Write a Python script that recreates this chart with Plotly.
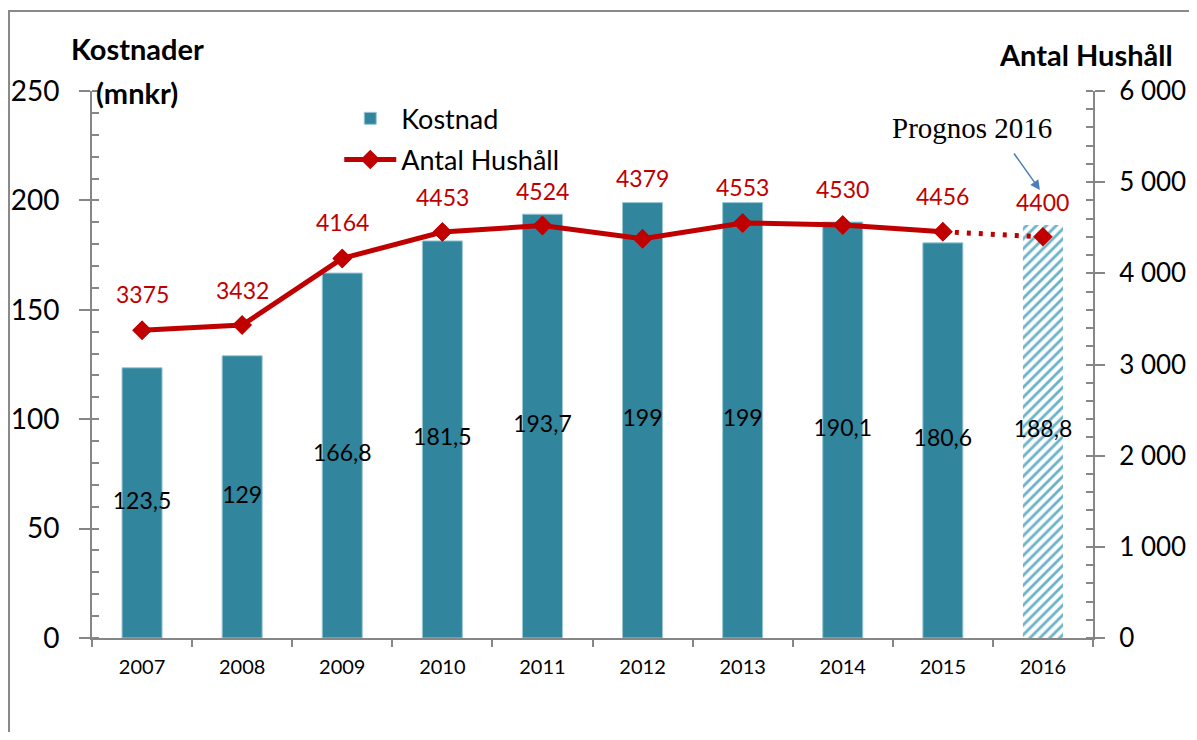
import plotly.graph_objects as go

# ---- data ----
years = ["2007", "2008", "2009", "2010", "2011", "2012", "2013", "2014", "2015", "2016"]
kostnad = [123.5, 129, 166.8, 181.5, 193.7, 199, 199, 190.1, 180.6, 188.8]
hushall = [3375, 3432, 4164, 4453, 4524, 4379, 4553, 4530, 4456, 4400]

# ---- styles ----
FONT = "Lato"
BAR_COLOR = "#31859C"
HATCH_COLOR = "#6AB2C8"
RED = "#C00000"
AXIS_GREY = "#868686"
label_shift = [36, 35, 36, 35, 35, 61, 36, 36, 36, 35]  # px above marker (style offsets)

n = len(years)
fmt = lambda v: f"{v:g}".replace(".", ",")

fig = go.Figure()

# bars (last one hatched = forecast)
fig.add_trace(go.Bar(
    x=years, y=kostnad, name="Kostnad", width=0.4,
    marker=dict(
        color=[BAR_COLOR] * (n - 1) + [HATCH_COLOR],
        line=dict(color=["#9CC8D6"] * (n - 1) + ["rgba(0,0,0,0)"], width=1),
        pattern=dict(shape=[""] * (n - 1) + ["/"],
                     bgcolor="white", size=7, solidity=0.4,
                     fillmode="replace"),
    ),
    legendgroup="a", hoverinfo="skip",
))

# bar value labels centred in bars
fig.add_trace(go.Scatter(
    x=years, y=[v / 2 for v in kostnad], mode="text",
    text=[fmt(v) for v in kostnad],
    textfont=dict(family=FONT, size=23, color="black"),
    showlegend=False, hoverinfo="skip",
))

# forecast (dotted part) - drawn first so markers sit on top
fig.add_trace(go.Scatter(
    x=years[-2:], y=hushall[-2:], yaxis="y2",
    mode="lines",
    line=dict(color=RED, width=5, dash="4px,8px"),
    showlegend=False, hoverinfo="skip",
))
# all household markers (incl. forecast year)
fig.add_trace(go.Scatter(
    x=years, y=hushall, name="Antal Hushåll", yaxis="y2",
    mode="markers",
    marker=dict(symbol="diamond", size=15, color=RED, line=dict(width=0)),
    showlegend=False, hoverinfo="skip",
))
# solid line for actual years
fig.add_trace(go.Scatter(
    x=years[:-1], y=hushall[:-1], name="Antal Hushåll", yaxis="y2",
    mode="lines+markers",
    line=dict(color=RED, width=5),
    marker=dict(symbol="diamond", size=15, color=RED),
    legendgroup="b", hoverinfo="skip",
))

annotations = []
for i, (v, s) in enumerate(zip(hushall, label_shift)):
    annotations.append(dict(
        x=i, y=v, xref="x", yref="y2", text=str(v), showarrow=False,
        yshift=s, yanchor="middle", xanchor="center",
        font=dict(family=FONT, size=23, color=RED),
    ))

annotations += [
    dict(x=0.045, y=1.0768, xref="paper", yref="paper", text="<b>Kostnader</b>",
         showarrow=False, xanchor="center", yanchor="middle",
         font=dict(family=FONT, size=29, color="black")),
    dict(x=0.045, y=0.998, xref="paper", yref="paper", text="<b>(mnkr)</b>",
         showarrow=False, xanchor="center", yanchor="middle",
         font=dict(family=FONT, size=29, color="black")),
    dict(x=0.993, y=1.0676, xref="paper", yref="paper", text="<b>Antal Hushåll</b>",
         showarrow=False, xanchor="center", yanchor="middle",
         font=dict(family=FONT, size=29, color="black")),
    dict(x=0.961, y=0.932, xref="paper", yref="paper", text="Prognos 2016",
         showarrow=False, xanchor="right", yanchor="middle",
         font=dict(family="Liberation Serif", size=29, color="black")),
    dict(x=0.947, y=0.819, xref="paper", yref="paper", text="",
         showarrow=True, ax=-27, ay=-38, axref="pixel", ayref="pixel",
         arrowcolor="#4A7EBB", arrowwidth=1.5, arrowhead=2, arrowsize=1.3),
]

# page body has an 8px margin: the plot area sits at page x 92..1093, y 91..638
fig.update_layout(
    width=1189, height=724, autosize=False,
    margin=dict(l=84, r=104, t=83, b=94, autoexpand=False),
    paper_bgcolor="white", plot_bgcolor="white",
    separators=", ",
    font=dict(family=FONT, color="black"),
    showlegend=True,
    legend=dict(x=0.247, y=0.994, xanchor="left", yanchor="top",
                bgcolor="rgba(0,0,0,0)", font=dict(family=FONT, size=27),
                traceorder="grouped", tracegroupgap=3, itemwidth=52),
    annotations=annotations,
    shapes=[dict(type="rect", xref="paper", yref="paper",
                 x0=-0.0829, x1=1.3, y0=-0.4, y1=1.1463,
                 line=dict(color="#898989", width=2), fillcolor="rgba(0,0,0,0)",
                 layer="below")],
    xaxis=dict(type="category", categoryorder="array", categoryarray=years,
               range=[-0.5, n - 0.5], showline=True, linecolor=AXIS_GREY, linewidth=2,
               ticks="outside", tickson="boundaries", ticklen=7, tickwidth=2,
               tickcolor=AXIS_GREY, tickfont=dict(size=20), showgrid=False,
               ticklabelstandoff=10, automargin=False),
    xaxis2=dict(type="linear", overlaying="x", anchor="y", range=[-0.5, n - 0.5],
                tickmode="array", tickvals=[i - 0.5 for i in range(n + 1)],
                ticks="inside", ticklen=7, tickwidth=2, tickcolor=AXIS_GREY,
                showticklabels=False, showline=False, showgrid=False, zeroline=False,
                automargin=False),
    yaxis=dict(range=[0, 250], dtick=50, showline=True, linecolor=AXIS_GREY,
               linewidth=2, ticks="outside", ticklen=11, tickwidth=2,
               tickcolor=AXIS_GREY, tickfont=dict(size=28), showgrid=False,
               zeroline=False, ticklabelstandoff=14, automargin=False,
               minor=dict(dtick=10, ticks="inside", ticklen=7, tickwidth=2,
                          tickcolor=AXIS_GREY, showgrid=False)),
    yaxis2=dict(range=[0, 6000], dtick=1000, overlaying="y", side="right",
                anchor="x", showline=True, linecolor=AXIS_GREY, linewidth=2,
                ticks="outside", ticklen=10, tickwidth=2, tickcolor=AXIS_GREY,
                tickformat=",", tickfont=dict(size=26), showgrid=False,
                zeroline=False, ticklabelstandoff=9, automargin=False,
                minor=dict(dtick=200, ticks="inside", ticklen=7, tickwidth=2,
                           tickcolor=AXIS_GREY, showgrid=False)),
    yaxis3=dict(range=[0, 6000], dtick=1000, overlaying="y", side="right",
                anchor="x", showline=False, ticks="inside", ticklen=10,
                tickwidth=2, tickcolor=AXIS_GREY, showticklabels=False,
                showgrid=False, zeroline=False, automargin=False),
)

fig.write_html("out.html")
